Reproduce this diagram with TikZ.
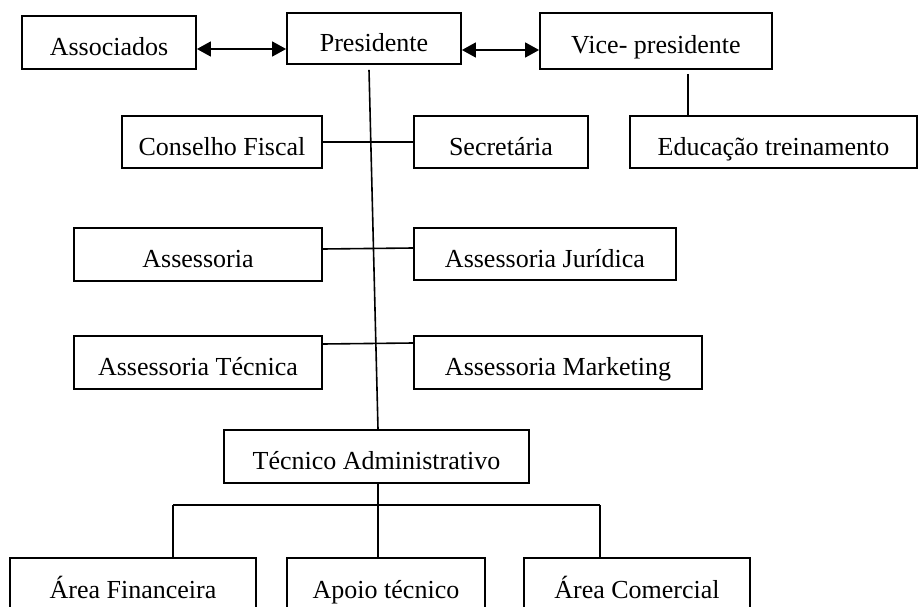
\documentclass[tikz,border=0pt]{standalone}
\usepackage{fontspec}
\setmainfont{Liberation Serif}
\usetikzlibrary{arrows.meta}

\begin{document}
\begin{tikzpicture}[
    block/.style={draw, line width=1.8pt, inner sep=0pt, text height=26pt, text depth=0pt,
      font=\fontsize{26}{31}\selectfont},
    link/.style={line width=1.6pt},
    both/.style={link, {Triangle[length=14pt,width=15pt]}-{Triangle[length=14pt,width=15pt]}},
    x=1pt,y=-1pt
    ]
    \useasboundingbox (0,0) rectangle (918,607);
    % top row
    \node[block, minimum width=174pt, minimum height=53pt] (assoc) at (109,42.5) {Associados};
    \node[block, minimum width=174pt, minimum height=51pt] (pres) at (374,38.5) {Presidente};
    \node[block, minimum width=232pt, minimum height=56pt] (vice) at (656,41) {Vice- presidente};
    % staff
    \node[block, minimum width=200pt, minimum height=52pt] (conselho) at (222,142) {Conselho Fiscal};
    \node[block, minimum width=174pt, minimum height=52pt] (secr) at (501,142) {Secretária};
    \node[block, minimum width=287pt, minimum height=52pt] (edu) at (773.5,142) {Educação treinamento};
    \node[block, minimum width=248pt, minimum height=53pt] (assess) at (198,254.5) {Assessoria};
    \node[block, minimum width=262pt, minimum height=52pt] (jur) at (545,254) {Assessoria Jurídica};
    \node[block, minimum width=248pt, minimum height=53pt] (astec) at (198,362.5) {Assessoria Técnica};
    \node[block, minimum width=288pt, minimum height=53pt] (mkt) at (558,362.5) {Assessoria Marketing};
    % line
    \node[block, minimum width=305pt, minimum height=53pt] (tecadm) at (376.5,456.5) {Técnico Administrativo};
    \node[block, minimum width=246pt, minimum height=54pt] (fin) at (133,585) {Área Financeira};
    \node[block, minimum width=198pt, minimum height=54pt] (apoio) at (386,585) {Apoio técnico};
    \node[block, minimum width=226pt, minimum height=54pt] (com) at (637,585) {Área Comercial};

    \draw[both] ([yshift=-6.5pt]assoc.east) -- ([yshift=-10.5pt]pres.west);
    \draw[both] ([yshift=-11.5pt]pres.east) -- ([yshift=-9pt]vice.west);
    \draw[link] ([xshift=-5pt,yshift=-5pt]pres.south) -- ([xshift=1.5pt]tecadm.north);

    \coordinate (vtop) at ([xshift=32pt,yshift=-4pt]vice.south);
    \draw[link] (vtop) -- (vtop |- edu.north);

    \draw[link] (conselho.east) -- (secr.west);
    \draw[link] ([yshift=5.5pt]assess.east) -- ([yshift=6pt]jur.west);
    \draw[link] ([yshift=18.5pt]astec.east) -- ([yshift=19.5pt]mkt.west);

    \coordinate (tadown) at ([xshift=1.5pt]tecadm.south);
    \coordinate (busl) at (173,505);
    \coordinate (busr) at (600,505);
    \draw[link] (tadown) -- (tadown |- apoio.north);
    \draw[link] (busl) -- (busr);
    \draw[link] (busl) -- (busl |- fin.north);
    \draw[link] (busr) -- (busr |- com.north);
  \end{tikzpicture}
\end{document}
